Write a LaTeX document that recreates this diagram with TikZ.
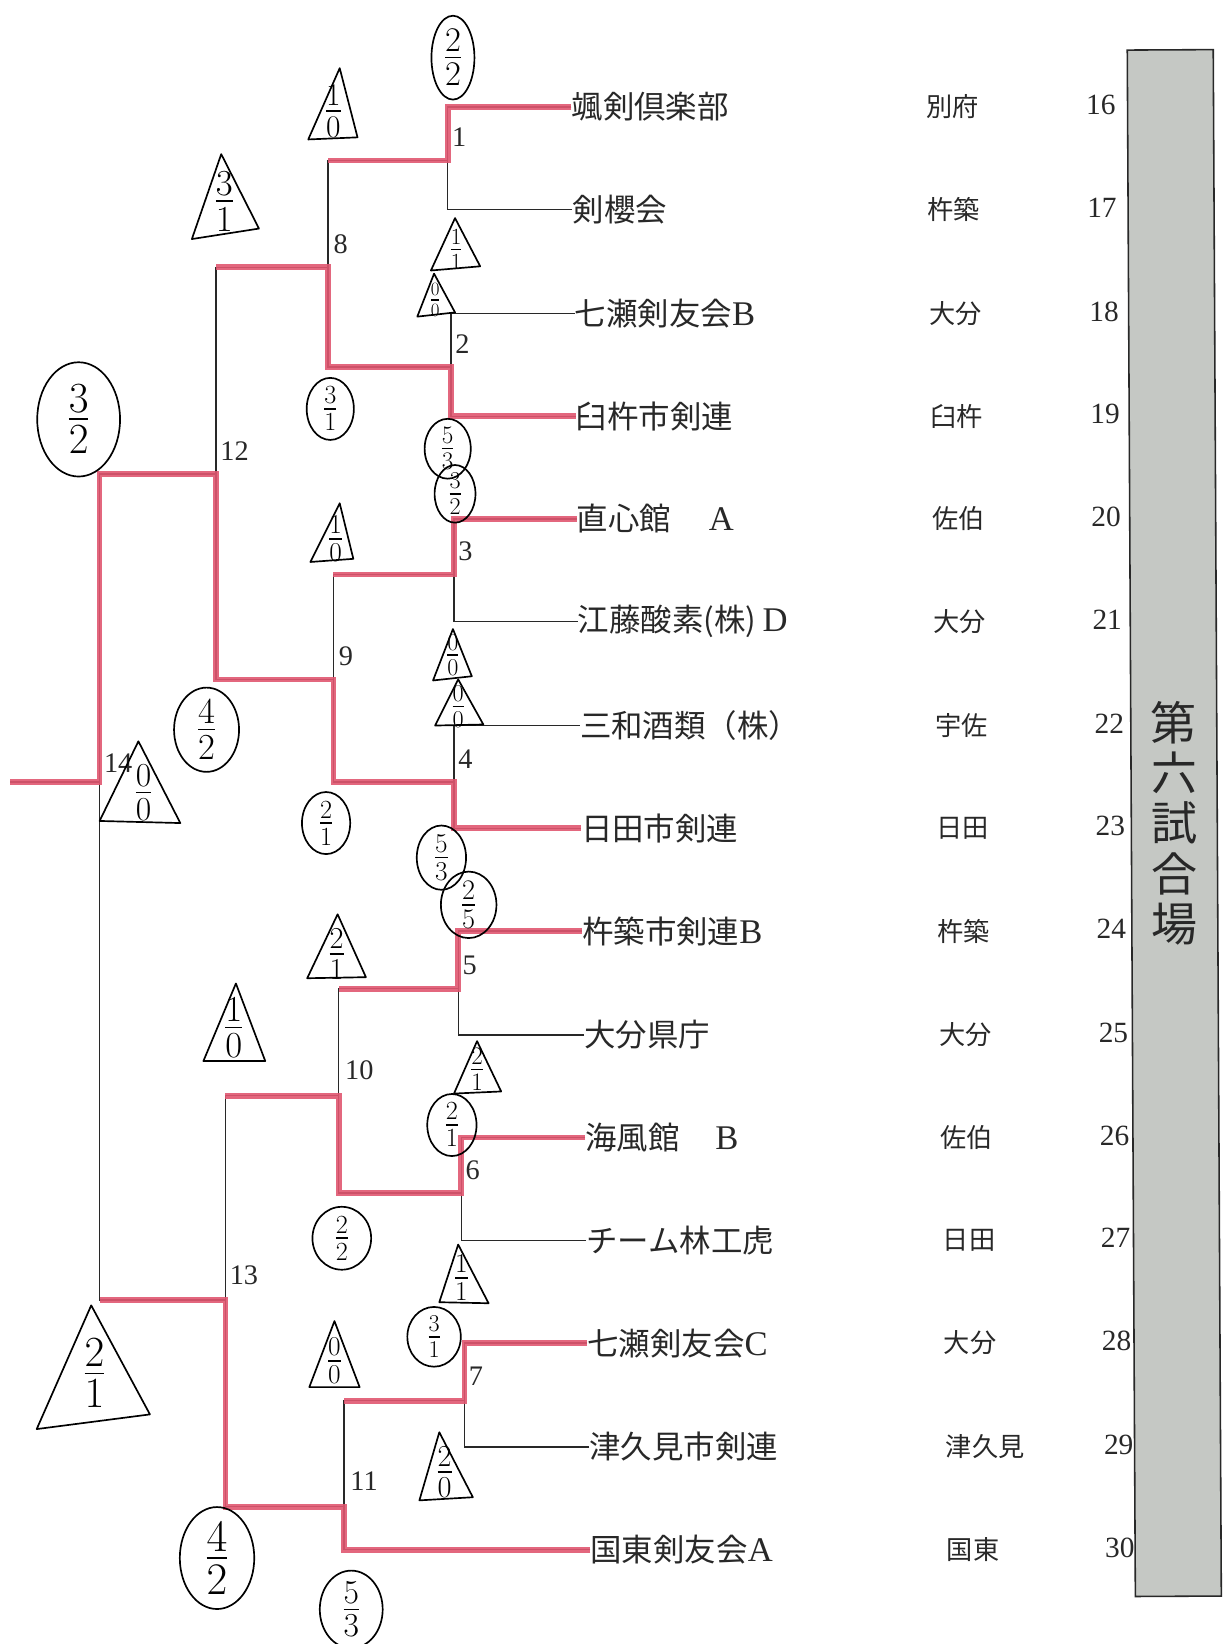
\RequirePackage{fix-cm}
\documentclass[tikz,border=0pt]{standalone}
\usepackage{amsmath}
\usepackage{fontspec}
\setmainfont{Liberation Serif}
\usetikzlibrary{positioning,shapes.geometric}
\newfontfamily\cjk{Noto Sans CJK JP}
\definecolor{marker}{RGB}{224,86,112}
\definecolor{venuegrey}{RGB}{197,200,196}
\definecolor{ink}{RGB}{40,40,40}
\newcommand\frc[2]{$\genfrac{}{}{1.5pt}{1}{\textstyle\rule[-0.1em]{0pt}{0pt}#1}{\textstyle\rule{0pt}{0.75em}#2}$}
\newcommand\lat[1]{{\rmfamily\fontsize{33}{33}\selectfont #1}}
\tikzset{line/.style={line width=1.3pt, color=ink}}
\tikzset{win/.style={line width=5.5pt, color=marker, opacity=0.9}}
\tikzset{team/.style={anchor=west, inner sep=0pt, text=ink, font=\cjk\fontsize{30}{30}\selectfont}}
\tikzset{pref/.style={anchor=west, inner sep=0pt, text=ink, font=\cjk\fontsize{25}{25}\selectfont}}
\tikzset{seed/.style={inner sep=0pt, text=ink, font=\fontsize{28}{28}\selectfont}}
\tikzset{bout/.style={anchor=south west, inner sep=0pt, text=ink, font=\fontsize{27}{27}\selectfont}}
\tikzset{ring/.style={draw, ellipse, line width=1.6pt, inner sep=0pt}}
\tikzset{tri/.style={draw, line width=1.6pt, line join=round}}
\tikzset{score/.style={inner sep=0pt}}
\tikzset{venue/.style={draw=ink, line width=1.5pt, fill=venuegrey, minimum width=82, minimum height=1475, inner sep=0pt, align=center, rotate=0.3, text=ink, font=\cjk\fontsize{44}{48}\selectfont}}

\begin{document}
\begin{tikzpicture}[x=1pt, y=-1pt]
        \useasboundingbox (0,0) rectangle (1172,1568);

        \node[venue] (hall) at (1120,785) {第\\六\\試\\合\\場};

        % teams
        \node[team] (t16) at (545,102) {颯剣倶楽部};
        \node[team] (t17) at (546,200) {剣櫻会};
        \node[team] (t18) at (548,299) {七瀬剣友会\lat{B}};
        \node[team] (t19) at (549,397) {臼杵市剣連};
        \node[team] (t20) at (550,495) {直心館\hspace{36pt}\lat{A}};
        \node[team] (t21) at (551,593) {江藤酸素(株)\hspace{6pt}\lat{D}};
        \node[team] (t22) at (553,692) {三和酒類（株）};
        \node[team] (t23) at (554,790) {日田市剣連};
        \node[team] (t24) at (555,888) {杵築市剣連\lat{B}};
        \node[team] (t25) at (557,987) {大分県庁};
        \node[team] (t26) at (558,1085) {海風館\hspace{34pt}\lat{B}};
        \node[team] (t27) at (559,1183) {チーム林工虎};
        \node[team] (t28) at (560,1281) {七瀬剣友会\lat{C}};
        \node[team] (t29) at (562,1380) {津久見市剣連};
        \node[team] (t30) at (563,1478) {国東剣友会\lat{A}};

        \node[pref] (p16) at (883,102) {別府};
        \node[pref] (p17) at (884,200) {杵築};
        \node[pref] (p18) at (886,299) {大分};
        \node[pref] (p19) at (887,397) {臼杵};
        \node[pref] (p20) at (889,495) {佐伯};
        \node[pref] (p21) at (890,593) {大分};
        \node[pref] (p22) at (892,692) {宇佐};
        \node[pref] (p23) at (893,790) {日田};
        \node[pref] (p24) at (894,888) {杵築};
        \node[pref] (p25) at (896,987) {大分};
        \node[pref] (p26) at (897,1085) {佐伯};
        \node[pref] (p27) at (899,1183) {日田};
        \node[pref] (p28) at (900,1281) {大分};
        \node[pref] (p29) at (902,1380) {津久見};
        \node[pref] (p30) at (903,1478) {国東};

        \node[seed] (n16) at (1050,100) {16};
        \node[seed] (n17) at (1051,198) {17};
        \node[seed] (n18) at (1053,297) {18};
        \node[seed] (n19) at (1054,395) {19};
        \node[seed] (n20) at (1055,493) {20};
        \node[seed] (n21) at (1056,591) {21};
        \node[seed] (n22) at (1058,690) {22};
        \node[seed] (n23) at (1059,788) {23};
        \node[seed] (n24) at (1060,886) {24};
        \node[seed] (n25) at (1062,985) {25};
        \node[seed] (n26) at (1063,1083) {26};
        \node[seed] (n27) at (1064,1181) {27};
        \node[seed] (n28) at (1065,1279) {28};
        \node[seed] (n29) at (1067,1378) {29};
        \node[seed] (n30) at (1068,1476) {30};

        % bouts
        \coordinate (m1) at (427,153);
        \coordinate (m2) at (430,350);
        \coordinate (m3) at (433,548);
        \coordinate (m4) at (433,746);
        \coordinate (m5) at (437,943);
        \coordinate (m6) at (440,1138);
        \coordinate (m7) at (443,1336);
        \coordinate (m8) at (313,255);
        \coordinate (m9) at (318,648);
        \coordinate (m10) at (323,1045);
        \coordinate (m11) at (328,1437);
        \coordinate (m12) at (206,452);
        \coordinate (m13) at (215,1240);
        \coordinate (m14) at (95,746);
        \coordinate (champ) at (10,746);

        \draw[line] (t16.west) -| (m1);
        \draw[line] (t17.west) -| (m1);
        \draw[line] (t18.west) -| (m2);
        \draw[line] (t19.west) -| (m2);
        \draw[line] (t20.west) -| (m3);
        \draw[line] (t21.west) -| (m3);
        \draw[line] (t22.west) -| (m4);
        \draw[line] (t23.west) -| (m4);
        \draw[line] (t24.west) -| (m5);
        \draw[line] (t25.west) -| (m5);
        \draw[line] (t26.west) -| (m6);
        \draw[line] (t27.west) -| (m6);
        \draw[line] (t28.west) -| (m7);
        \draw[line] (t29.west) -| (m7);
        \draw[line] (t30.west) -| (m11);
        \draw[line] (m1) -| (m8);
        \draw[line] (m2) -| (m8);
        \draw[line] (m3) -| (m9);
        \draw[line] (m4) -| (m9);
        \draw[line] (m5) -| (m10);
        \draw[line] (m6) -| (m10);
        \draw[line] (m7) -| (m11);
        \draw[line] (m8) -| (m12);
        \draw[line] (m9) -| (m12);
        \draw[line] (m10) -| (m13);
        \draw[line] (m11) -| (m13);
        \draw[line] (m12) -| (m14);
        \draw[line] (m13) -| (m14);
        \draw[line] (m14) -- (champ);

        % winners
        \draw[win] (t16.west) -| (m1) -- (m1 -| m8);
        \draw[win] (t19.west) -| (m2) -| (m8) -- (m8 -| m12);
        \draw[win] (t20.west) -| (m3) -- (m3 -| m9);
        \draw[win] (t23.west) -| (m4) -| (m9) -| (m12) -| (m14) -- (champ);
        \draw[win] (t24.west) -| (m5) -- (m5 -| m10);
        \draw[win] (t26.west) -| (m6) -| (m10) -- (m10 -| m13);
        \draw[win] (t28.west) -| (m7) -- (m7 -| m11);
        \draw[win] (t30.west) -| (m11) -| (m13) -- (m13 -| m14);

        \node[bout, above right=13pt and 4pt of m1] (b1) {1};
        \node[bout, above right=13pt and 4pt of m2] (b2) {2};
        \node[bout, above right=13pt and 4pt of m3] (b3) {3};
        \node[bout, above right=13pt and 4pt of m4] (b4) {4};
        \node[bout, above right=13pt and 4pt of m5] (b5) {5};
        \node[bout, above right=13pt and 4pt of m6] (b6) {6};
        \node[bout, above right=14pt and 4pt of m7] (b7) {7};
        \node[bout, above right=13pt and 5pt of m8] (b8) {8};
        \node[bout, above right=13pt and 5pt of m9] (b9) {9};
        \node[bout, above right=15pt and 6pt of m10] (b10) {10};
        \node[bout, above right=15pt and 6pt of m11] (b11) {11};
        \node[bout, above right=13pt and 4pt of m12] (b12) {12};
        \node[bout, above right=14pt and 4pt of m13] (b13) {13};
        \node[bout, above right=9pt and 4pt of m14] (b14) {14};

        % scores
        \node[ring, minimum width=41, minimum height=80, font=\fontsize{33}{33}\selectfont] (r1) at (432,55) {\frc{2}{2}};
        \node[ring, minimum width=45, minimum height=54, font=\fontsize{25}{25}\selectfont] (r2) at (315,390) {\frc{3}{1}};
        \node[ring, minimum width=44, minimum height=46, font=\fontsize{24}{24}\selectfont] (r3) at (427,428) {\frc{5}{3}};
        \node[ring, minimum width=39, minimum height=45, font=\fontsize{23}{23}\selectfont] (r4) at (434,471) {\frc{3}{2}};
        \node[ring, minimum width=79, minimum height=109, font=\fontsize{41}{41}\selectfont] (r5) at (75,400) {\frc{3}{2}};
        \node[ring, minimum width=62, minimum height=78, font=\fontsize{35}{35}\selectfont] (r6) at (197,696) {\frc{4}{2}};
        \node[ring, minimum width=46, minimum height=54, font=\fontsize{25}{25}\selectfont] (r7) at (311,785) {\frc{2}{1}};
        \node[ring, minimum width=47, minimum height=59, font=\fontsize{26}{26}\selectfont] (r8) at (421,818) {\frc{5}{3}};
        \node[ring, minimum width=53, minimum height=55, font=\fontsize{27}{27}\selectfont] (r9) at (447,863) {\frc{2}{5}};
        \node[ring, minimum width=47, minimum height=51, font=\fontsize{25}{25}\selectfont] (r10) at (431,1073) {\frc{2}{1}};
        \node[ring, minimum width=56, minimum height=60, font=\fontsize{25}{25}\selectfont] (r11) at (326,1181) {\frc{2}{2}};
        \node[ring, minimum width=51, minimum height=57, font=\fontsize{23}{23}\selectfont] (r12) at (414,1275) {\frc{3}{1}};
        \node[ring, minimum width=71, minimum height=96, font=\fontsize{43}{43}\selectfont] (r13) at (207,1486) {\frc{4}{2}};
        \node[ring, minimum width=60, minimum height=70, font=\fontsize{32}{32}\selectfont] (r14) at (335,1535) {\frc{5}{3}};

        \draw[tri] (324,65) -- (341,131) -- (294,133) -- cycle;
        \node[score, font=\fontsize{30}{30}\selectfont] (s1) at (318,106) {\frc{1}{0}};
        \draw[tri] (211,147) -- (247,218) -- (183,228) -- cycle;
        \node[score, font=\fontsize{35}{35}\selectfont] (s2) at (214,192) {\frc{3}{1}};
        \draw[tri] (434,208) -- (458,254) -- (411,258) -- cycle;
        \node[score, font=\fontsize{22}{22}\selectfont] (s3) at (435,238) {\frc{1}{1}};
        \draw[tri] (414,261) -- (434,298) -- (398,302) -- cycle;
        \node[score, font=\fontsize{18}{18}\selectfont] (s4) at (415,286) {\frc{0}{0}};
        \draw[tri] (324,480) -- (337,533) -- (296,536) -- cycle;
        \node[score, font=\fontsize{26}{26}\selectfont] (s5) at (320,514) {\frc{1}{0}};
        \draw[tri] (432,600) -- (450,645) -- (413,649) -- cycle;
        \node[score, font=\fontsize{23}{23}\selectfont] (s6) at (432,625) {\frc{0}{0}};
        \draw[tri] (437,648) -- (461,691) -- (415,692) -- cycle;
        \node[score, font=\fontsize{23}{23}\selectfont] (s7) at (437,674) {\frc{0}{0}};
        \draw[tri] (132,707) -- (172,785) -- (95,783) -- cycle;
        \node[score, font=\fontsize{32}{32}\selectfont] (s8) at (137,756) {\frc{0}{0}};
        \draw[tri] (322,872) -- (349,932) -- (293,933) -- cycle;
        \node[score, font=\fontsize{29}{29}\selectfont] (s9) at (321,910) {\frc{2}{1}};
        \draw[tri] (225,938) -- (253,1012) -- (194,1012) -- cycle;
        \node[score, font=\fontsize{35}{35}\selectfont] (s10) at (223,980) {\frc{1}{0}};
        \draw[tri] (455,993) -- (478,1041) -- (433,1043) -- cycle;
        \node[score, font=\fontsize{24}{24}\selectfont] (s11) at (455,1020) {\frc{2}{1}};
        \draw[tri] (437,1187) -- (466,1243) -- (419,1242) -- cycle;
        \node[score, font=\fontsize{26}{26}\selectfont] (s12) at (440,1219) {\frc{1}{1}};
        \draw[tri] (319,1260) -- (343,1323) -- (295,1323) -- cycle;
        \node[score, font=\fontsize{26}{26}\selectfont] (s13) at (319,1298) {\frc{0}{0}};
        \draw[tri] (419,1366) -- (451,1428) -- (400,1431) -- cycle;
        \node[score, font=\fontsize{29}{29}\selectfont] (s14) at (424,1404) {\frc{2}{0}};
        \draw[tri] (87,1245) -- (143,1349) -- (35,1363) -- cycle;
        \node[score, font=\fontsize{41}{41}\selectfont] (s15) at (90,1310) {\frc{2}{1}};
\end{tikzpicture}
\end{document}
